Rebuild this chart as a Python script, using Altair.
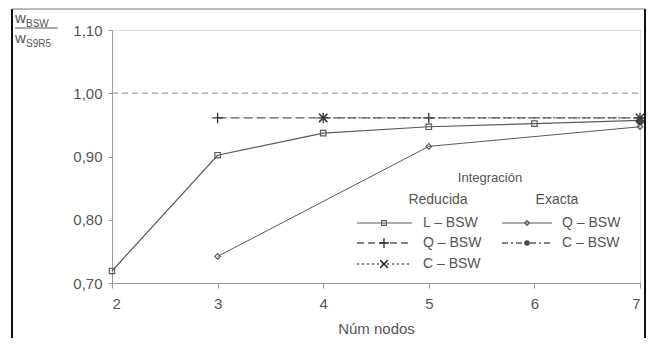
import altair as alt
import pandas as pd

# ---- data ----
nodes_L_red = [2, 3, 4, 5, 6, 7]
w_L_red = [0.719, 0.902, 0.937, 0.947, 0.952, 0.957]
nodes_Q_red = [3, 4, 5, 7]
w_Q_red = [0.961, 0.961, 0.961, 0.961]
nodes_C_red = [4, 7]
w_C_red = [0.961, 0.961]
nodes_Q_exa = [3, 5, 7]
w_Q_exa = [0.742, 0.916, 0.947]
nodes_C_exa = [7]
w_C_exa = [0.954]
ref_x = [2, 7]
ref_y = [1.0, 1.0]
x_ticks = [2, 3, 4, 5, 6, 7]
y_ticks = [0.7, 0.8, 0.9, 1.0, 1.1]

FONT = "Liberation Sans"
LINE = "#5a5a5a"
TXT = "#555555"

xs = alt.Scale(domain=[2, 7], nice=False)
ys = alt.Scale(domain=[0.7, 1.1], nice=False)

xenc = alt.X("x:Q", scale=xs, axis=alt.Axis(
    values=x_ticks, title="Núm nodos", format="d", grid=False,
    tickSize=5, labelPadding=8, titlePadding=10,
    labelFontSize=15, titleFontSize=15, labelColor=TXT, titleColor=TXT,
    titleFontWeight="normal", domainColor="#999", tickColor="#999",
    labelFont=FONT, titleFont=FONT))
yenc = alt.Y("y:Q", scale=ys, axis=alt.Axis(
    values=y_ticks, title=None, grid=False, tickSize=4, labelPadding=6,
    labelExpr="replace(format(datum.value, '.2f'), '.', ',')",
    labelFontSize=15, labelColor=TXT, domainColor="#999", tickColor="#999",
    labelFont=FONT))

PLUS = "M-1,0L1,0M0,-1L0,1"
XSH = "M-1,-1L1,1M-1,1L1,-1"


def df(x, y):
    return pd.DataFrame({"x": x, "y": y})


layers = []
# reference line at 1.00
layers.append(alt.Chart(df(ref_x, ref_y)).mark_line(
    color="#b0b0b0", strokeDash=[6, 4], strokeWidth=1.5).encode(x=xenc, y=yenc))

# L - BSW reducida
layers.append(alt.Chart(df(nodes_L_red, w_L_red)).mark_line(
    color=LINE, strokeWidth=1.2).encode(x=xenc, y=yenc))
layers.append(alt.Chart(df(nodes_L_red, w_L_red)).mark_point(
    shape="square", size=30, color=LINE, filled=False, strokeWidth=1.2, opacity=1).encode(x=xenc, y=yenc))
# Q - BSW reducida
layers.append(alt.Chart(df(nodes_Q_red, w_Q_red)).mark_line(
    color=LINE, strokeWidth=1.3, strokeDash=[9, 4]).encode(x=xenc, y=yenc))
layers.append(alt.Chart(df(nodes_Q_red, w_Q_red)).mark_point(
    shape=PLUS, size=110, color="#333", filled=False, strokeWidth=1.3, opacity=1).encode(x=xenc, y=yenc))
# C - BSW reducida
layers.append(alt.Chart(df(nodes_C_red, w_C_red)).mark_line(
    color=LINE, strokeWidth=1.3, strokeDash=[2, 3]).encode(x=xenc, y=yenc))
layers.append(alt.Chart(df(nodes_C_red, w_C_red)).mark_point(
    shape=XSH, size=70, color="#333", filled=False, strokeWidth=1.6, opacity=1).encode(x=xenc, y=yenc))
# Q - BSW exacta
layers.append(alt.Chart(df(nodes_Q_exa, w_Q_exa)).mark_line(
    color=LINE, strokeWidth=1.0).encode(x=xenc, y=yenc))
layers.append(alt.Chart(df(nodes_Q_exa, w_Q_exa)).mark_point(
    shape="diamond", size=30, color=LINE, filled=False, strokeWidth=1.2, opacity=1).encode(x=xenc, y=yenc))
# C - BSW exacta
layers.append(alt.Chart(df(nodes_C_exa, w_C_exa)).mark_line(
    color=LINE, strokeWidth=1.3, strokeDash=[6, 3, 2, 3]).encode(x=xenc, y=yenc))
layers.append(alt.Chart(df(nodes_C_exa, w_C_exa)).mark_point(
    shape="circle", size=35, color="#444", filled=True, opacity=1).encode(x=xenc, y=yenc))

# ---- manual legend (pixel positions relative to plot area) ----
one = pd.DataFrame({"a": [0]})


def txt(text, x, y, size=14, align="left"):
    return alt.Chart(one).mark_text(
        text=text, font=FONT, fontSize=size, color=TXT, align=align, baseline="middle"
    ).encode(x=alt.value(x), y=alt.value(y))


def seg(x1, x2, y, dash=None, width=1.2):
    kw = dict(color=LINE, strokeWidth=width)
    if dash:
        kw["strokeDash"] = dash
    return alt.Chart(one).mark_rule(**kw).encode(
        x=alt.value(x1), x2=alt.value(x2), y=alt.value(y))


def sym(x, y, shape, size, filled=False, sw=1.2, color=LINE):
    return alt.Chart(one).mark_point(
        shape=shape, size=size, filled=filled, color=color, strokeWidth=sw, opacity=1
    ).encode(x=alt.value(x), y=alt.value(y))


legend = [
    txt("Integración", 378, 148, 13, "center"),
    txt("Reducida", 326, 170, 14, "center"),
    txt("Exacta", 445, 170, 14, "center"),
    seg(245, 300, 193), sym(272, 193, "square", 22),
    txt("L – BSW", 311, 193),
    seg(245, 300, 213, [7, 4], 1.3), sym(272, 213, PLUS, 100, sw=1.3, color="#333"),
    txt("Q – BSW", 311, 213),
    seg(245, 300, 234, [2, 3], 1.3), sym(272, 234, XSH, 60, sw=1.5, color="#333"),
    txt("C – BSW", 311, 234),
    seg(390, 440, 193, None, 1.0), sym(415, 193, "diamond", 22),
    txt("Q – BSW", 450, 193),
    seg(390, 440, 213, [6, 3, 2, 3], 1.3), sym(415, 213, "circle", 30, filled=True, color="#444"),
    txt("C – BSW", 450, 213),
]

# y-axis title as fraction
ytitle = [
    txt("w", -97, -12, 15),
    txt("BSW", -86, -6, 10),
    seg(-97, -54, -2, None, 1.2),
    txt("w", -97, 8, 15),
    txt("S9R5", -86, 14, 10),
]

# outer frame lines
frame = [
    alt.Chart(one).mark_rule(color="#111", strokeWidth=2).encode(
        x=alt.value(-100), y=alt.value(-21), y2=alt.value(320)),
    alt.Chart(one).mark_rule(color="#111", strokeWidth=2).encode(
        x=alt.value(533), y=alt.value(-21), y2=alt.value(320)),
    alt.Chart(one).mark_rule(color="#777", strokeWidth=1).encode(
        x=alt.value(-100), x2=alt.value(533), y=alt.value(-21)),
]

chart = alt.layer(*layers, *legend, *ytitle, *frame).properties(
    width=528, height=253,
    padding={"left": 104, "top": 22, "right": 6, "bottom": 55},
    autosize=alt.AutoSizeParams(type="none"),
).configure_view(stroke="#999", strokeWidth=1.5).configure(background="white")

chart.save("out.html", embed_options={"renderer": "svg", "actions": False})
